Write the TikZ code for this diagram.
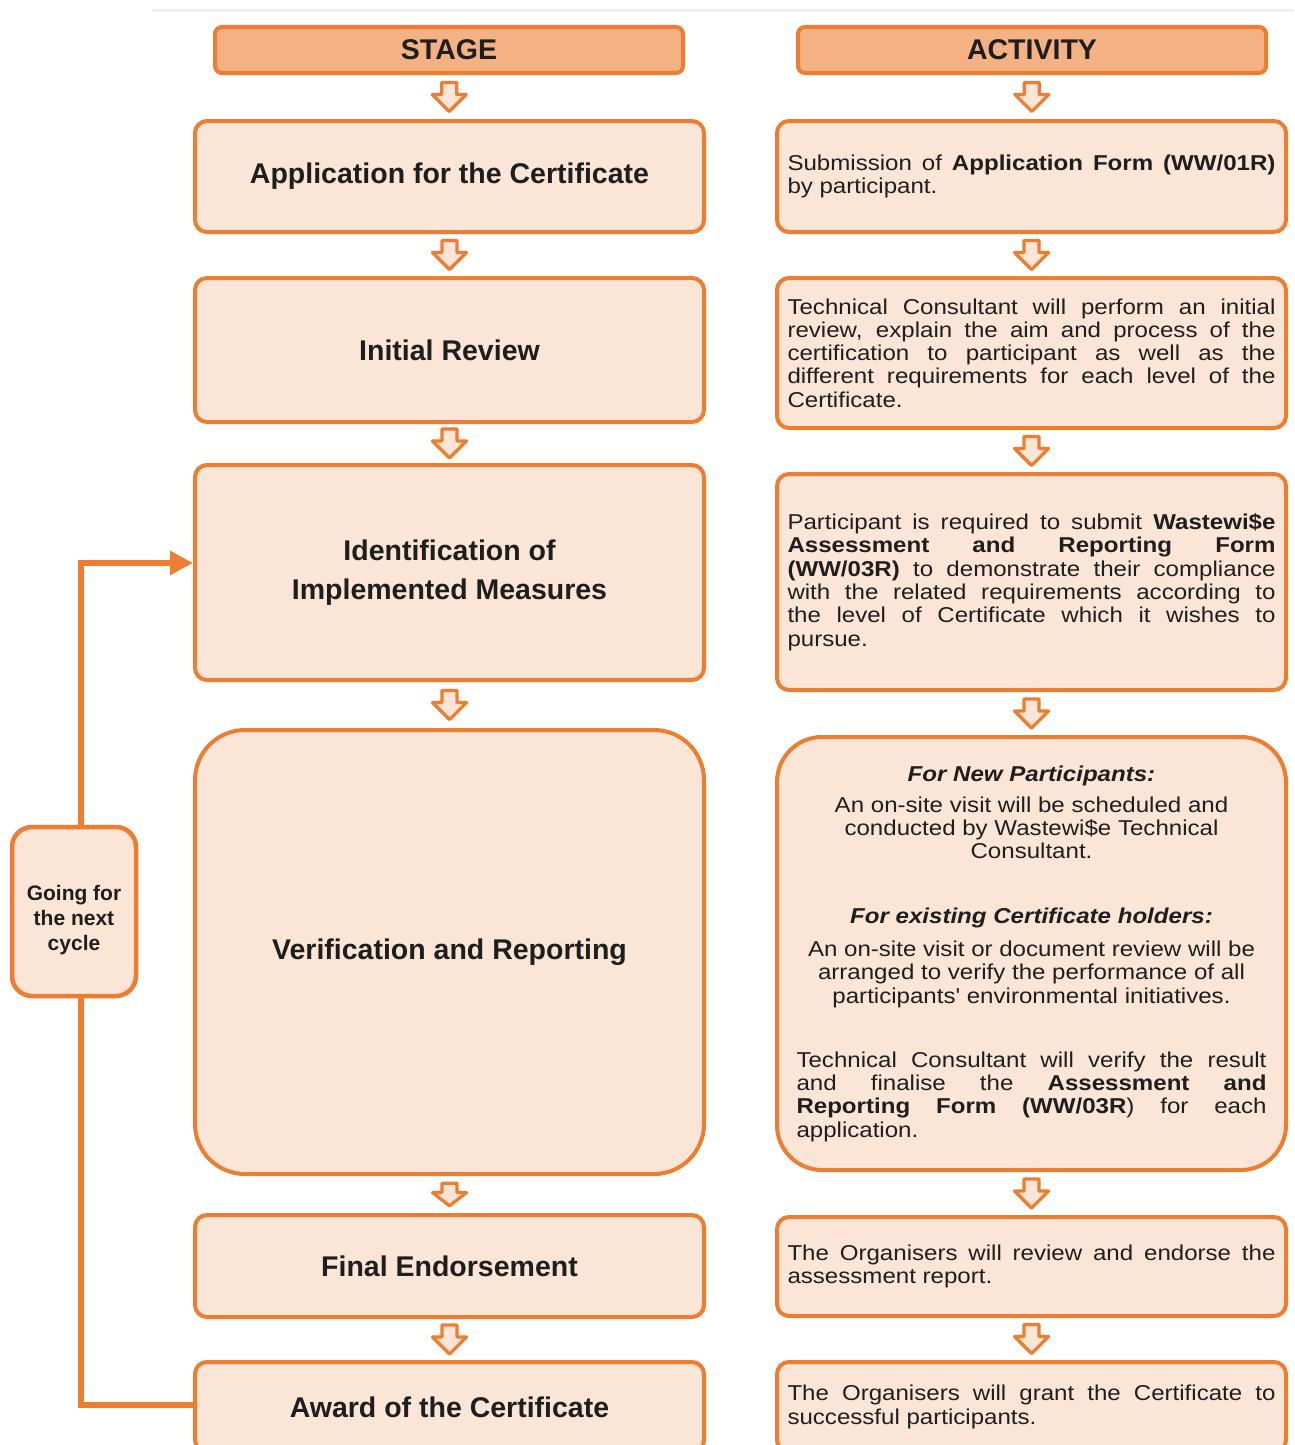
\documentclass[tikz,border=0pt]{standalone}
\usepackage{fontspec}
\setmainfont{Liberation Sans}
\newfontfamily\actfont[FakeStretch=1.12]{Liberation Sans}
\usetikzlibrary{arrows.meta,calc}
\definecolor{ora}{HTML}{ED7D31}
\definecolor{peach}{HTML}{FBE5D6}
\definecolor{hdr}{HTML}{F4B183}
\definecolor{txt}{HTML}{1E1E1E}
\hyphenpenalty=10000
\exhyphenpenalty=10000
\tikzset{
 box/.style={draw=ora, fill=peach, line width=4pt, rounded corners=12pt, inner sep=0pt, text=txt},
 stagebox/.style={box, minimum width=509pt, font=\fontsize{28.5}{39}\selectfont\bfseries, align=center},
 actbox/.style={box, minimum width=509pt, text width=488pt, align=justify, font=\actfont\fontsize{21.5}{23.3}\selectfont},
 hdrbox/.style={box, fill=hdr, rounded corners=7pt, minimum width=468pt, minimum height=46pt, font=\fontsize{28.5}{30}\selectfont\bfseries},
 gobox/.style={box, rounded corners=20pt, line width=4.5pt, minimum width=124pt, minimum height=169pt},
 gotext/.style={inner sep=0pt, text=txt, font=\fontsize{21}{25}\selectfont\bfseries, align=center},
 looparrow/.style={draw=ora, line width=6pt},
 blockarr/.style={draw=ora, fill=peach, line width=3.2pt, line join=round},
}
\newcommand{\blockarrow}[3][1]{%
 \path ($(#2.south)!0.5!(#3.north)$) coordinate (m);
 \draw[blockarr] ($(m)+(-7.5,{-14.5*#1})$) -- ($(m)+(7.5,{-14.5*#1})$) -- ($(m)+(7.5,{-2.5*#1})$)
   -- ($(m)+(17,{-2.5*#1})$) -- ($(m)+(0,{14.5*#1})$) -- ($(m)+(-17,{-2.5*#1})$) -- ($(m)+(-7.5,{-2.5*#1})$) -- cycle;
}
\begin{document}
\begin{tikzpicture}[x=1pt,y=-1pt]
\useasboundingbox (0,0) rectangle (1294,1445);
\clip (0,0) rectangle (1294,1445);
\fill[white] (0,0) rectangle (1294,1445);
\draw[gray!12, line width=3pt] (152,11) -- (1294,11);

% headers
\node[hdrbox] (hs) at (449,50) {STAGE};
\node[hdrbox] (ha) at (1032,50) {ACTIVITY};

% stage boxes
\node[stagebox, minimum height=111pt] (s1) at (449.5,176.5) {Application for the Certificate};
\node[stagebox, minimum height=144pt] (s2) at (449.5,350) {Initial Review};
\node[stagebox, minimum height=215pt] (s3) at (449.5,572.5) {Identification of\\Implemented Measures};
\node[stagebox, minimum height=444pt, rounded corners=50pt] (s4) at (449.5,952) {Verification and Reporting};
\node[stagebox, minimum height=102pt] (s5) at (449.5,1266) {Final Endorsement};
\node[stagebox, minimum height=90pt] (s6) at (449.5,1407) {Award of the Certificate};

% activity boxes
\node[actbox, minimum height=111pt] (a1) at (1031.5,176.5) {Submission of \textbf{Application Form (WW/01R)}\linebreak by participant.};
\node[actbox, minimum height=150pt] (a2) at (1031.5,353) {Technical Consultant will perform an initial\linebreak review, explain the aim and process of the\linebreak certification to participant as well as the\linebreak different requirements for each level of the\linebreak Certificate.};
\node[actbox, minimum height=216pt] (a3) at (1031.5,582) {Participant is required to submit \textbf{Wastewi\$e}\linebreak \textbf{Assessment and Reporting Form}\linebreak \textbf{(WW/03R)} to demonstrate their compliance\linebreak with the related requirements according to\linebreak the level of Certificate which it wishes to\linebreak pursue.};
\node[actbox, minimum height=433pt, rounded corners=45pt] (a4) at (1031.5,953.5) {%
 \centering
 {\bfseries\itshape For New Participants:}\par\vspace{8pt}
 An on-site visit will be scheduled and\\ conducted by Wastewi\$e Technical\\ Consultant.\par\vspace{41pt}
 {\bfseries\itshape For existing Certificate holders:}\par\vspace{10pt}
 An on-site visit or document review will be\\ arranged to verify the performance of all\\ participants' environmental initiatives.\par\vspace{43pt}
 \begin{minipage}{470pt}
 Technical Consultant will verify the result\linebreak and finalise the \textbf{Assessment and}\linebreak \textbf{Reporting Form (WW/03R}) for each\linebreak application.
 \end{minipage}\par};
\node[actbox, minimum height=99pt] (a5) at (1031.5,1266.5) {The Organisers will review and endorse the\linebreak assessment report.};
\node[actbox, minimum height=90pt] (a6) at (1031.5,1407) {The Organisers will grant the Certificate to\linebreak successful participants.};

% going box
\node[gobox] (g) at (74,911.5) {};
\node[gotext] (gt) at (74,920) {Going for\\the next\\cycle};

% block arrows
\blockarrow{hs}{s1}
\blockarrow{s1}{s2}
\blockarrow{s2}{s3}
\blockarrow{s3}{s4}
\blockarrow[0.78]{s4}{s5}
\blockarrow{s5}{s6}
\blockarrow{ha}{a1}
\blockarrow{a1}{a2}
\blockarrow{a2}{a3}
\blockarrow{a3}{a4}
\blockarrow{a4}{a5}
\blockarrow{a5}{a6}

% loop connector
\draw[looparrow] ([yshift=2pt]s6.west) -| ([xshift=7pt]g.south);
\draw[looparrow, -{Triangle[length=23pt,width=23pt]}] ([xshift=7pt]g.north) |- ([yshift=9.5pt]s3.west);
\end{tikzpicture}
\end{document}
